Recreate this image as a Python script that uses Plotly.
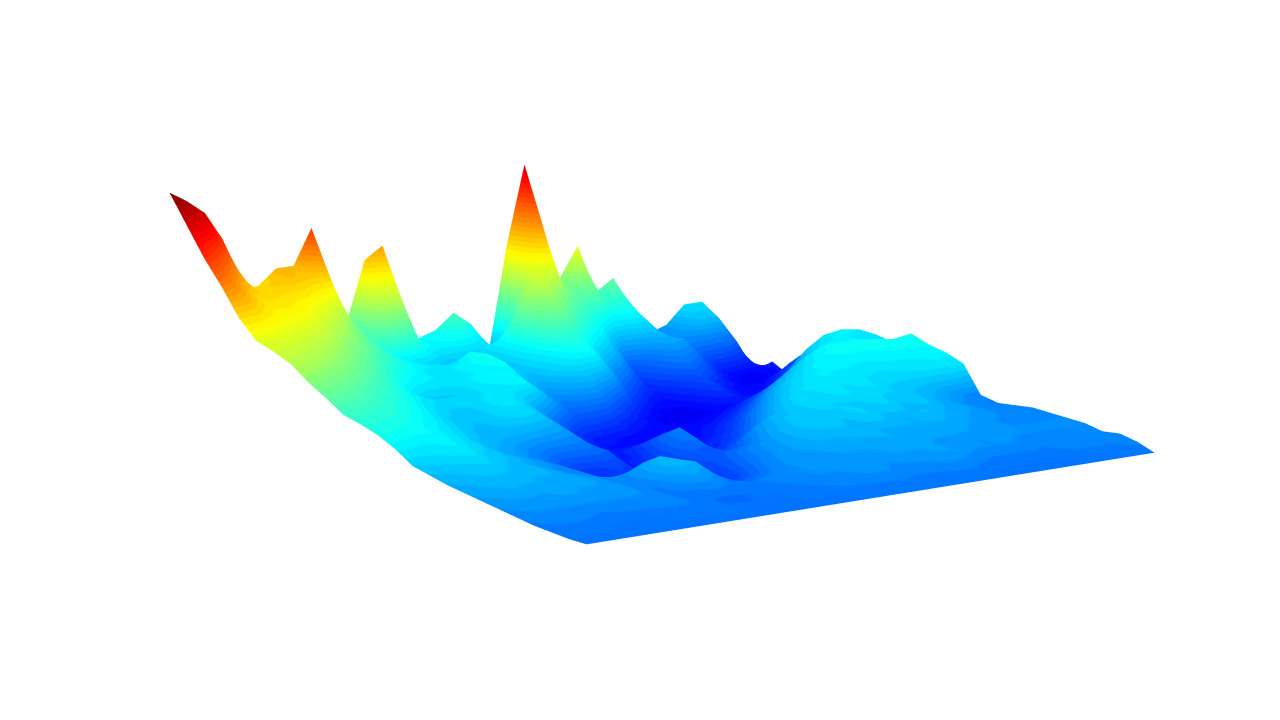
import plotly.graph_objects as go

z_row00 = [.22]*33
z_row01 = [.22,.22,.22,.22,.22,.22,.22,.22,.22,.22,.22,.22,.22,.22,.22,.22,.23,.23,.23,.23,.23,.23,.23,.23,.22,.22,.22,.22,.22,.23,.23,.23,.24]
z_row02 = [.225,.23,.23,.22,.22,.22,.22,.23,.23,.23,.22,.22,.22,.22,.23,.23,.24,.24,.25,.25,.24,.24,.25,.25,.24,.23,.23,.23,.23,.24,.24,.24,.25]
z_row03 = [.23,.24,.24,.24,.23,.24,.24,.24,.24,.23,.22,.21,.22,.23,.23,.24,.25,.25,.26,.26,.25,.26,.26,.27,.26,.25,.25,.25,.24,.24,.24,.25,.24]
z_row04 = [.24,.25,.25,.25,.25,.25,.25,.25,.24,.23,.23,.24,.23,.23,.24,.25,.25,.26,.26,.26,.26,.27,.27,.27,.26,.26,.25,.26,.25,.25,.25,.25,.25]
z_row05 = [.25,.26,.26,.26,.27,.26,.26,.26,.24,.23,.26,.27,.25,.22,.21,.23,.25,.26,.26,.27,.27,.27,.28,.28,.27,.27,.27,.26,.26,.25,.25,.25,.25]
z_row06 = [.26,.27,.28,.27,.28,.27,.27,.26,.24,.25,.28,.29,.28,.23,.19,.20,.24,.26,.27,.28,.28,.29,.29,.27,.28,.28,.28,.27,.26,.25,.24,.24,.25]
z_row07 = [.27,.28,.29,.29,.28,.28,.27,.26,.24,.25,.27,.29,.27,.22,.17,.17,.22,.25,.27,.29,.30,.30,.29,.31,.29,.28,.30,.28,.27,.26,.25,.24,.25]
z_row08 = [.28,.29,.30,.30,.29,.29,.27,.25,.24,.20,.22,.25,.24,.20,.16,.16,.20,.24,.26,.29,.31,.31,.30,.32,.30,.31,.29,.30,.28,.27,.25,.24,.24]
z_row09 = [.295,.30,.31,.32,.30,.29,.27,.25,.24,.20,.15,.18,.20,.18,.15,.17,.19,.21,.23,.27,.30,.30,.32,.31,.31,.33,.30,.31,.29,.27,.25,.24,.23]
z_row10 = [.31,.32,.33,.34,.31,.30,.28,.26,.24,.20,.14,.13,.17,.16,.14,.18,.20,.19,.19,.24,.28,.30,.33,.32,.34,.32,.33,.31,.30,.29,.27,.25,.24]
z_row11 = [.35,.34,.34,.35,.33,.31,.28,.26,.24,.21,.17,.16,.18,.17,.13,.18,.22,.22,.16,.18,.22,.27,.31,.33,.34,.33,.34,.32,.32,.32,.33,.34,.33]
z_row12 = [.38,.37,.36,.36,.34,.32,.29,.28,.26,.24,.22,.22,.22,.20,.13,.16,.21,.24,.15,.15,.17,.22,.27,.31,.33,.35,.34,.34,.33,.34,.34,.35,.35]
z_row13 = [.40,.39,.38,.37,.35,.33,.31,.29,.29,.29,.28,.27,.25,.20,.14,.13,.18,.20,.14,.13,.15,.17,.22,.27,.31,.33,.36,.35,.35,.35,.36,.36,.36]
z_row14 = [.415,.41,.40,.39,.37,.35,.32,.30,.29,.31,.32,.31,.27,.20,.15,.13,.14,.15,.13,.12,.13,.14,.17,.21,.26,.30,.33,.36,.37,.37,.38,.37,.38]
z_row15 = [.455,.44,.43,.41,.39,.37,.34,.31,.30,.31,.33,.33,.29,.22,.17,.14,.12,.12,.11,.11,.11,.12,.14,.16,.20,.25,.29,.33,.36,.36,.36,.34,.33]
z_row16 = [.49,.48,.46,.44,.41,.39,.36,.33,.31,.31,.33,.34,.32,.27,.22,.17,.14,.13,.12,.11,.11,.11,.12,.13,.15,.18,.22,.26,.30,.34,.35,.34,.34]
z_row17 = [.535,.52,.50,.48,.45,.42,.39,.35,.33,.32,.32,.33,.34,.36,.31,.25,.20,.20,.18,.14,.12,.11,.11,.11,.12,.14,.17,.19,.24,.30,.34,.35,.34]
z_row18 = [.56,.55,.54,.52,.49,.46,.42,.38,.33,.31,.31,.33,.36,.36,.33,.28,.24,.27,.28,.22,.16,.12,.10,.10,.10,.11,.12,.13,.15,.20,.27,.31,.31]
z_row19 = [.58,.58,.57,.55,.53,.50,.46,.42,.38,.35,.34,.34,.34,.35,.37,.30,.28,.32,.36,.36,.28,.18,.13,.10,.10,.13,.17,.13,.11,.12,.17,.24,.28]
z_row20 = [.64,.63,.61,.59,.58,.55,.50,.47,.42,.38,.36,.33,.34,.36,.38,.33,.30,.34,.40,.40,.34,.26,.20,.14,.12,.16,.19,.15,.12,.11,.13,.18,.21]
z_row21 = [.73,.70,.65,.62,.62,.60,.55,.52,.46,.42,.38,.35,.34,.33,.37,.29,.30,.36,.46,.48,.42,.36,.30,.22,.15,.20,.24,.21,.15,.11,.10,.11,.11]
z_row22 = [.81,.77,.70,.64,.64,.63,.62,.58,.51,.46,.40,.36,.33,.32,.28,.27,.29,.38,.52,.56,.50,.43,.39,.30,.19,.23,.28,.27,.20,.14,.11,.10,.14]
z_row23 = [.905,.85,.79,.70,.64,.66,.67,.65,.66,.50,.43,.54,.55,.39,.35,.36,.35,.32,.28,.58,.72,.50,.45,.44,.38,.38,.32,.24,.26,.30,.29,.20,.08]
z_row24 = [1.0,.96,.91,.81,.63,.63,.68,.68,.80,.53,.46,.66,.70,.41,.36,.38,.43,.38,.28,.63,.90,.57,.49,.59,.42,.46,.35,.25,.27,.33,.33,.26,.09]
z_rows = [z_row00,z_row01,z_row02,z_row03,z_row04,z_row05,z_row06,z_row07,z_row08,z_row09,z_row10,z_row11,z_row12,
          z_row13,z_row14,z_row15,z_row16,z_row17,z_row18,z_row19,z_row20,z_row21,z_row22,z_row23,z_row24]

jet_stops = [0,0.11,0.36,0.61,0.86,1]
jet_rgb = [(0,0,127),(0,0,255),(0,255,255),(255,255,0),(255,0,0),(127,0,0)]
def jet(t):
    for k in range(5):
        if t <= jet_stops[k+1]:
            f = (t-jet_stops[k])/(jet_stops[k+1]-jet_stops[k])
            return "rgb(%d,%d,%d)" % tuple(round(a+(b-a)*f) for a,b in zip(jet_rgb[k],jet_rgb[k+1]))
    return "rgb(127,0,0)"
N = 64
scale = []
for i in range(N):
    c = jet((i+0.5)/N)
    scale += [[i/N,c],[(i+1)/N,c]]

fig = go.Figure(go.Surface(z=z_rows, colorscale=scale, cmin=0, cmax=1, showscale=False,
    lighting=dict(ambient=1,diffuse=0,specular=0,fresnel=0,roughness=1)))
ax = dict(visible=False)
fig.update_layout(scene=dict(xaxis=ax, yaxis=ax, zaxis=ax,
    aspectmode="manual", aspectratio=dict(x=2.235,y=2.235,z=0.87),
    camera=dict(eye=dict(x=-2.89,y=-3.935,z=1.1), projection=dict(type="orthographic"))),
    margin=dict(l=44,r=0,t=0,b=34), paper_bgcolor="white")
fig.write_html("out.html")
